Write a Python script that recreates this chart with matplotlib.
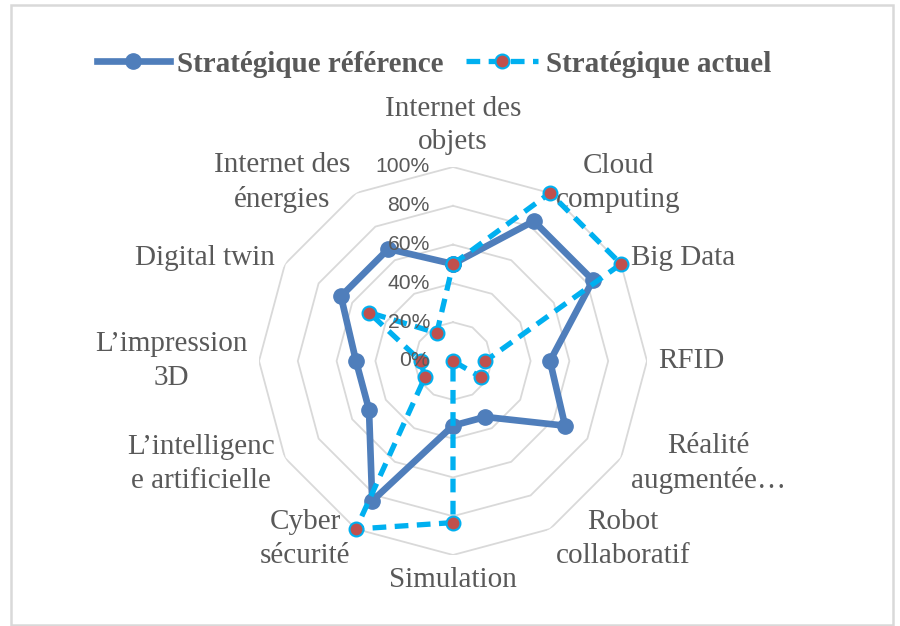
import numpy as np
import matplotlib
matplotlib.use("Agg")
import matplotlib.pyplot as plt
from matplotlib.lines import Line2D
from matplotlib.patches import Rectangle
import matplotlib.transforms as mtransforms

categories = ["Internet des\nobjets", "Cloud\ncomputing", "Big Data", "RFID",
              "Réalité\naugmentée…", "Robot\ncollaboratif", "Simulation",
              "Cyber\nsécurité", "L’intelligenc\ne artificielle", "L’impression\n3D",
              "Digital twin", "Internet des\nénergies"]
reference = [50, 83.3, 83.3, 50, 66.7, 33.3, 33.3, 83.3, 50, 50, 66.7, 66.7]
actuel = [50, 100, 100, 16.7, 16.7, 0, 83.3, 100, 16.7, 16.7, 50, 16.7]
rings = [20, 40, 60, 80, 100]
ring_labels = ["0%", "20%", "40%", "60%", "80%", "100%"]
series_names = ["Stratégique référence", "Stratégique actuel"]

W, H = 900, 626
fig = plt.figure(figsize=(W / 100, H / 100), dpi=100)
cx, cy, R = 453, 361, 194
ax = fig.add_axes([(cx - R) / W, (H - cy - R) / H, 2 * R / W, 2 * R / H], projection="polar")
ax.set_theta_zero_location("N")
ax.set_theta_direction(-1)
ax.set_ylim(0, 100)
ax.grid(False)
ax.spines["polar"].set_visible(False)
ax.set_xticks([])
ax.set_yticks([])
ax.patch.set_alpha(0)

n = len(categories)
ang = np.arange(n) * 2 * np.pi / n
ang_c = np.append(ang, ang[0])

for r in rings:
    ax.plot(ang_c, [r] * (n + 1), color="#D9D9D9", lw=1.3, zorder=1)

ref_c = np.append(reference, reference[0])
act_c = np.append(actuel, actuel[0])
ax.plot(ang_c, ref_c, color="#4F7EBB", lw=4.8, marker="o", ms=11,
        markerfacecolor="#4F7EBB", markeredgecolor="#4F7EBB", zorder=3, clip_on=False)
ax.plot(ang_c, act_c, color="#00B0F0", lw=3.8, ls=(0, (2.6, 1.6)), marker="o", ms=10,
        markerfacecolor="#C0504D", markeredgecolor="#00B0F0", markeredgewidth=1.5,
        zorder=4, clip_on=False)

# radial tick labels
off = mtransforms.offset_copy(ax.transData, fig=fig, x=-23, y=0, units="dots")
for i, lab in enumerate(ring_labels):
    ax.text(0, i * 20, lab, transform=off, ha="right", va="center",
            fontsize=15.2, family="Liberation Sans", color="#595959", zorder=5)

# category labels
for a, lab in zip(ang, categories):
    s, c = np.sin(a), np.cos(a)
    if abs(s) < 0.01:
        ha = "center"
        va = "bottom" if c > 0 else "top"
    else:
        ha = "left" if s > 0 else "right"
        va = "center"
    ax.text(a, 106, lab, ha=ha, va=va, multialignment="center",
            fontsize=21, family="Liberation Serif", color="#595959",
            linespacing=1.38, clip_on=False)

handles = [
    Line2D([], [], color="#4F7EBB", lw=4.8, marker="o", ms=11,
           markerfacecolor="#4F7EBB", markeredgecolor="#4F7EBB"),
    Line2D([], [], color="#00B0F0", lw=3.8, ls=(0, (2.6, 1.6)), marker="o", ms=10,
           markerfacecolor="#C0504D", markeredgecolor="#00B0F0", markeredgewidth=1.5),
]
leg = fig.legend(handles, series_names, loc="center", bbox_to_anchor=(434 / W, 1 - 64 / H),
                 ncol=2, frameon=False, handlelength=2.5, handletextpad=0.25,
                 columnspacing=0.75,
                 prop={"family": "Liberation Serif", "weight": "bold", "size": 21})
for t in leg.get_texts():
    t.set_color("#595959")

fig.patches.append(Rectangle((11 / W, 1 / H), (893 - 11) / W, (621 - 1) / H,
                             transform=fig.transFigure, fill=False,
                             edgecolor="#D9D9D9", lw=1.8))

fig.savefig("out.png", dpi=100)
